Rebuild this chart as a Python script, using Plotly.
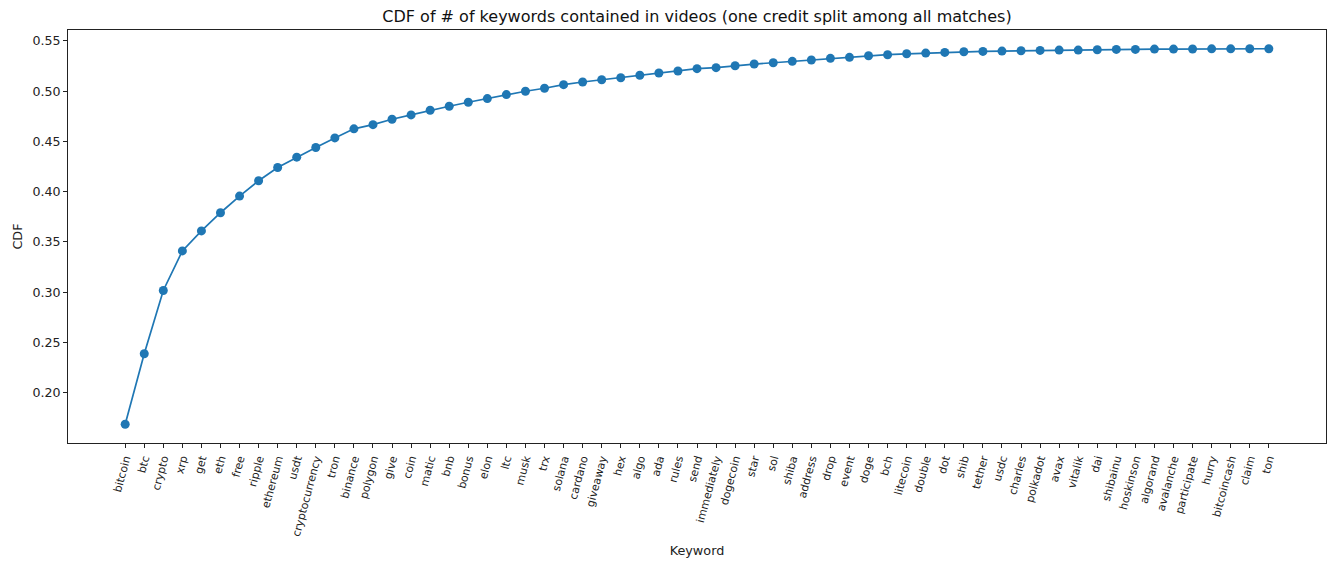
import plotly.graph_objects as go

keywords = ["bitcoin", "btc", "crypto", "xrp", "get", "eth", "free", "ripple", "ethereum", "usdt",
            "cryptocurrency", "tron", "binance", "polygon", "give", "coin", "matic", "bnb", "bonus", "elon",
            "ltc", "musk", "trx", "solana", "cardano", "giveaway", "hex", "algo", "ada", "rules",
            "send", "immediately", "dogecoin", "star", "sol", "shiba", "address", "drop", "event", "doge",
            "bch", "litecoin", "double", "dot", "shib", "tether", "usdc", "charles", "polkadot", "avax",
            "vitalik", "dai", "shibainu", "hoskinson", "algorand", "avalanche", "participate", "hurry",
            "bitcoincash", "claim", "ton"]

cdf = [0.1685, 0.2387, 0.3016, 0.3410, 0.3609, 0.3790, 0.3956, 0.4108, 0.4240, 0.4343,
       0.4439, 0.4535, 0.4625, 0.4667, 0.4721, 0.4764, 0.4810, 0.4850, 0.4890, 0.4926,
       0.4966, 0.4999, 0.5029, 0.5065, 0.5091, 0.5114, 0.5134, 0.5158, 0.5181, 0.5201,
       0.5224, 0.5234, 0.5253, 0.5270, 0.5283, 0.5297, 0.5310, 0.5327, 0.5337, 0.5353,
       0.5363, 0.5372, 0.5379, 0.5386, 0.5392, 0.5396, 0.5399, 0.5402, 0.5406, 0.5409,
       0.5409, 0.5412, 0.5416, 0.5416, 0.5419, 0.5419, 0.5420, 0.5421, 0.5421, 0.5422,
       0.5422]

y_ticks = [0.20, 0.25, 0.30, 0.35, 0.40, 0.45, 0.50, 0.55]

FONT = "DejaVu Sans"

fig = go.Figure()
fig.add_trace(go.Scatter(
    x=keywords, y=cdf, mode="lines+markers",
    line=dict(color="#1f77b4", width=1.7),
    marker=dict(color="#1f77b4", size=9),
    showlegend=False,
))

n = len(keywords)
pad = 0.05 * (n - 1)
ymin, ymax = min(cdf), max(cdf)
ypad = 0.05 * (ymax - ymin)

fig.update_layout(
    width=1327, height=561,
    margin=dict(l=68, r=1, t=30, b=118),
    paper_bgcolor="white", plot_bgcolor="white",
    font=dict(family=FONT, size=12.8, color="#222"),
    title=dict(text="CDF of # of keywords contained in videos (one credit split among all matches)",
               x=0.5, xref="paper", xanchor="center", y=1 - 16 / 561, yanchor="middle",
               font=dict(family=FONT, size=16, color="#111")),
    xaxis=dict(
        type="category", range=[-pad, n - 1 + pad],
        tickangle=-75, ticks="outside", ticklen=4, tickcolor="#222",
        showline=True, linecolor="#222", linewidth=1, mirror=True,
        showgrid=False, zeroline=False,
        tickfont=dict(family=FONT, size=11, color="#222"),
        title=dict(text="Keyword", font=dict(family=FONT, size=12.8, color="#222"), standoff=8),
        automargin=False,
    ),
    yaxis=dict(
        range=[ymin - ypad, ymax + ypad],
        tickvals=y_ticks, tickformat=".2f",
        ticks="outside", ticklen=4, tickcolor="#222",
        showline=True, linecolor="#222", linewidth=1, mirror=True,
        showgrid=False, zeroline=False,
        tickfont=dict(family=FONT, size=12.6, color="#222"),
        title=dict(text="CDF", font=dict(family=FONT, size=12.8, color="#222"), standoff=6),
        automargin=False,
    ),
)

fig.write_html("out.html")
